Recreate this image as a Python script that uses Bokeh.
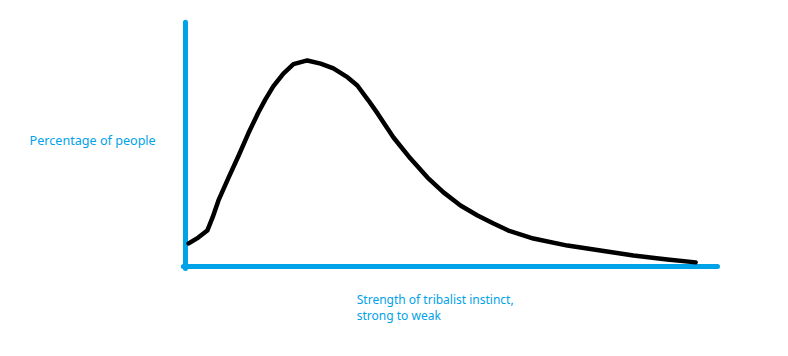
from bokeh.plotting import figure
from bokeh.models import Range1d, Label
from bokeh.embed import file_html
from bokeh.resources import INLINE

# Strength of tribalist instinct (0 = strong ... 100 = weak)
strength = [0.6, 2.4, 4.1, 5.1, 6.2, 8.1, 10.0, 11.8, 13.7, 15.0, 16.5, 18.4,
            20.3, 22.9, 25.4, 27.8, 30.5, 32.3, 34.4, 36.1, 39.1, 42.3, 45.5,
            48.5, 51.7, 54.9, 57.9, 60.7, 65.4, 71.8, 78.0, 84.2, 90.6, 95.9]
# Percentage of people (arbitrary scale, axis top = 100)
people = [9.5, 11.9, 14.8, 20.2, 27.2, 36.6, 45.7, 54.7, 63.4, 68.7, 74.1, 79.4,
          83.3, 84.8, 83.5, 81.5, 77.8, 74.5, 68.3, 63.0, 53.1, 44.4, 36.6,
          30.5, 25.1, 21.0, 17.7, 14.8, 11.5, 8.6, 6.6, 4.5, 2.9, 1.7]

y_label = "Percentage of people"
x_label_lines = ["Strength of tribalist instinct,", "strong to weak"]

BLUE = "#00A2E8"
W, H = 788, 356

p = figure(width=W, height=H, output_backend="svg", toolbar_location=None,
           x_range=Range1d(-34.77, 113.35), y_range=Range1d(-37.04, 109.47),
           min_border=0, min_border_left=0, min_border_right=0,
           min_border_top=0, min_border_bottom=0)
p.axis.visible = False
p.grid.visible = False
p.outline_line_color = None
p.background_fill_color = "white"
p.border_fill_color = "white"

# hand-drawn style axes
p.line([0, 0], [-0.8, 100.5], line_color=BLUE, line_width=5, line_cap="round")
p.line([-0.4, 100.0], [0, 0], line_color=BLUE, line_width=5, line_cap="round")

# curve
p.line(strength, people, line_color="black", line_width=4.5,
       line_join="round", line_cap="round")

p.add_layout(Label(x=-29.3, y=51.85, text=y_label, text_color=BLUE,
                   text_font="Noto Sans", text_font_size="12.6px",
                   text_baseline="middle", text_align="left"))
p.add_layout(Label(x=32.2, y=-13.4, text=x_label_lines[0], text_color=BLUE,
                   text_font="Noto Sans", text_font_size="12px",
                   text_baseline="middle", text_align="left"))
p.add_layout(Label(x=32.2, y=-20.2, text=x_label_lines[1], text_color=BLUE,
                   text_font="Noto Sans", text_font_size="12px",
                   text_baseline="middle", text_align="left"))

open("out.html", "w").write(file_html(p, INLINE))
